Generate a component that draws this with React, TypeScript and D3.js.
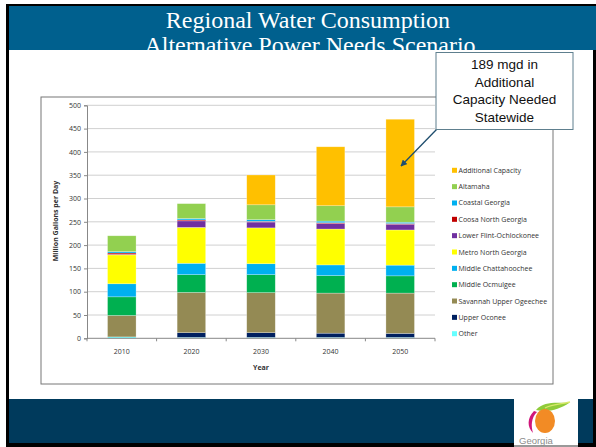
import React, { useRef, useEffect } from 'react';
import * as d3 from 'd3';

const years = ['2010', '2020', '2030', '2040', '2050'];

// bottom-to-top stacking order
const seriesNames = [
  'Other',
  'Upper Oconee',
  'Savannah Upper Ogeechee',
  'Middle Ocmulgee',
  'Middle Chattahoochee',
  'Metro North Georgia',
  'Lower Flint-Ochlockonee',
  'Coosa North Georgia',
  'Coastal Georgia',
  'Altamaha',
  'Additional Capacity',
];

const seriesColors = [
  '#66FFFF', '#002060', '#948A54', '#00B050', '#00B0F0',
  '#FFFF00', '#7030A0', '#C00000', '#00B0F0', '#92D050', '#FFC000',
];

const other = [3, 2, 2, 2, 2];
const upperOconee = [0, 10, 10, 9, 8.5];
const savannah = [46, 86.5, 86, 86, 86.5];
const ocmulgee = [40, 38, 38.5, 37.5, 37];
const chattahoochee = [28, 24.5, 23.5, 23, 23];
const metro = [62, 77, 77, 77, 75.5];
const lowerFlint = [1, 14, 12.5, 12, 12.3];
const coosa = [3, 2, 1.5, 1.5, 1.5];
const coastal = [3, 3, 3.5, 3.5, 2.8];
const altamaha = [34, 32, 32, 33, 33];
const additional = [0, 0, 64, 126.5, 188];

const seriesValues = [
  other, upperOconee, savannah, ocmulgee, chattahoochee,
  metro, lowerFlint, coosa, coastal, altamaha, additional,
];

const yTicks = [0, 50, 100, 150, 200, 250, 300, 350, 400, 450, 500];

const calloutLines = ['189 mgd in', 'Additional', 'Capacity Needed', 'Statewide'];

const W = 596;
const H = 447;

export default function App() {
  const svgRef = useRef<SVGSVGElement>(null);

  useEffect(() => {
    if (!svgRef.current) return;
    const svg = d3.select(svgRef.current);
    svg.selectAll('*').remove();

    // slide frame
    svg.append('rect').attr('x', 0).attr('y', 0).attr('width', W).attr('height', H).attr('fill', '#fff');
    svg.append('rect').attr('x', 6).attr('y', 4).attr('width', W - 6).attr('height', H - 4).attr('fill', '#000');
    svg.append('rect').attr('x', 9).attr('y', 6).attr('width', 584).attr('height', 437).attr('fill', '#fff');

    // title band
    svg.append('rect').attr('x', 9).attr('y', 6).attr('width', W - 9).attr('height', 44).attr('fill', '#00608E');
    const clip = svg.append('clipPath').attr('id', 'titleClip');
    clip.append('rect').attr('x', 9).attr('y', 6).attr('width', W - 9).attr('height', 44);
    const title = svg.append('g').attr('clip-path', 'url(#titleClip)');
    title.append('text')
      .attr('x', 308).attr('y', 27.5)
      .attr('text-anchor', 'middle')
      .attr('font-family', '"Liberation Serif", "DejaVu Serif", serif')
      .attr('font-size', 24)
      .attr('fill', '#fff')
      .text('Regional Water Consumption');
    title.append('text')
      .attr('x', 310).attr('y', 53)
      .attr('text-anchor', 'middle')
      .attr('font-family', '"Liberation Serif", "DejaVu Serif", serif')
      .attr('font-size', 24)
      .attr('fill', '#fff')
      .text('Alternative Power Needs Scenario');

    // footer
    svg.append('rect').attr('x', 9).attr('y', 399).attr('width', 584).attr('height', 44).attr('fill', '#003A5C');

    // chart box
    svg.append('rect')
      .attr('x', 41).attr('y', 97).attr('width', 512).attr('height', 287)
      .attr('fill', '#fff').attr('stroke', '#777').attr('stroke-width', 1);

    const plotLeft = 87;
    const plotRight = 435;
    const plotTop = 105.3;
    const plotBottom = 338.3;

    const x = d3.scaleBand<string>()
      .domain(years)
      .range([plotLeft, plotRight])
      .paddingInner(0.59)
      .paddingOuter(0.295);

    const y = d3.scaleLinear().domain([0, 500]).range([plotBottom, plotTop]);

    const font = '"Open Sans", "Liberation Sans", sans-serif';

    // gridlines
    svg.append('g')
      .selectAll('line')
      .data(yTicks.filter(t => t > 0))
      .enter()
      .append('line')
      .attr('x1', plotLeft).attr('x2', plotRight)
      .attr('y1', d => y(d)).attr('y2', d => y(d))
      .attr('stroke', '#c4c4c4').attr('stroke-width', 0.8);

    // stacked bars
    const rows = years.map((yr, i) => {
      const r: any = { year: yr };
      seriesNames.forEach((s, k) => { r[s] = seriesValues[k][i]; });
      return r;
    });
    const stack = d3.stack<any>().keys(seriesNames);
    const stacked = stack(rows);

    const barsG = svg.append('g');
    stacked.forEach((layer, k) => {
      barsG.append('g')
        .attr('fill', seriesColors[k])
        .selectAll('rect')
        .data(layer)
        .enter()
        .append('rect')
        .attr('x', d => x(d.data.year) as number)
        .attr('width', x.bandwidth())
        .attr('y', d => y(d[1]))
        .attr('height', d => Math.max(0, y(d[0]) - y(d[1])))
        .attr('stroke', '#ffffff')
        .attr('stroke-opacity', 0.45)
        .attr('stroke-width', 0.6);
    });

    // y axis
    const yAxis = svg.append('g')
      .attr('transform', `translate(${plotLeft},0)`)
      .call(d3.axisLeft(y).tickValues(yTicks).tickSize(3).tickPadding(3));
    yAxis.select('.domain').attr('stroke', '#888');
    yAxis.selectAll('.tick line').attr('stroke', '#888');
    yAxis.selectAll('.tick text')
      .attr('font-family', font).attr('font-size', 7).attr('fill', '#333');

    // x axis
    svg.append('line')
      .attr('x1', plotLeft).attr('x2', plotRight)
      .attr('y1', plotBottom).attr('y2', plotBottom)
      .attr('stroke', '#888').attr('stroke-width', 1);
    const boundaries = d3.range(years.length + 1).map(i => plotLeft + i * x.step());
    svg.append('g')
      .selectAll('line')
      .data(boundaries)
      .enter()
      .append('line')
      .attr('x1', d => d).attr('x2', d => d)
      .attr('y1', plotBottom).attr('y2', plotBottom + 3)
      .attr('stroke', '#888');
    svg.append('g')
      .selectAll('text')
      .data(years)
      .enter()
      .append('text')
      .attr('x', d => (x(d) as number) + x.bandwidth() / 2)
      .attr('y', 354)
      .attr('text-anchor', 'middle')
      .attr('font-family', font).attr('font-size', 7).attr('fill', '#333')
      .text(d => d);

    // axis titles
    svg.append('text')
      .attr('x', 261).attr('y', 370)
      .attr('text-anchor', 'middle')
      .attr('font-family', font).attr('font-size', 7).attr('font-weight', 'bold').attr('fill', '#333')
      .text('Year');
    svg.append('text')
      .attr('transform', `translate(58,221) rotate(-90)`)
      .attr('text-anchor', 'middle')
      .attr('font-family', font).attr('font-size', 7).attr('font-weight', 'bold').attr('fill', '#333')
      .text('Million Gallons per Day');

    // legend (reverse order)
    const legendOrder = seriesNames.map((_, k) => k).reverse();
    const legend = svg.append('g');
    legendOrder.forEach((k, i) => {
      const cy = 170.3 + i * 16.34;
      legend.append('rect')
        .attr('x', 452).attr('y', cy - 2.5).attr('width', 5).attr('height', 5)
        .attr('fill', seriesColors[k]);
      legend.append('text')
        .attr('x', 458.5).attr('y', cy + 2.5)
        .attr('font-family', font).attr('font-size', 7).attr('fill', '#333')
        .text(seriesNames[k]);
    });

    // callout arrow
    const defs = svg.append('defs');
    defs.append('marker')
      .attr('id', 'arrowHead')
      .attr('viewBox', '0 0 10 10')
      .attr('refX', 9).attr('refY', 5)
      .attr('markerWidth', 5).attr('markerHeight', 5)
      .attr('orient', 'auto')
      .append('path').attr('d', 'M0,0 L10,5 L0,10 z').attr('fill', '#1F4E6E');
    svg.append('line')
      .attr('x1', 437).attr('y1', 129)
      .attr('x2', 401).attr('y2', 166)
      .attr('stroke', '#1F4E6E').attr('stroke-width', 1.3)
      .attr('marker-end', 'url(#arrowHead)');

    // callout box
    svg.append('rect')
      .attr('x', 436).attr('y', 52.5).attr('width', 137).attr('height', 77)
      .attr('fill', '#fff').attr('stroke', '#5E7F8E').attr('stroke-width', 1);
    svg.append('g')
      .selectAll('text')
      .data(calloutLines)
      .enter()
      .append('text')
      .attr('x', 504.5)
      .attr('y', (_, i) => 69 + i * 17.6)
      .attr('text-anchor', 'middle')
      .attr('font-family', '"Liberation Sans", Arial, sans-serif')
      .attr('font-size', 13.5).attr('fill', '#111')
      .text(d => d);

    // Georgia logo
    const logo = svg.append('g');
    logo.append('rect').attr('x', 514).attr('y', 399).attr('width', 64).attr('height', 48).attr('fill', '#fff');
    logo.append('rect').attr('x', 514).attr('y', 445).attr('width', 64).attr('height', 2).attr('fill', '#999');
    logo.append('path')
      .attr('d', 'M536,410 C544,401 556,403 569,403 C560,409 548,413 536,410 Z')
      .attr('fill', '#8FCB3A');
    logo.append('path')
      .attr('d', 'M545,408 C552,404 562,404 570,402')
      .attr('fill', 'none').attr('stroke', '#D8E86A').attr('stroke-width', 1.4);
    logo.append('ellipse')
      .attr('cx', 545).attr('cy', 421).attr('rx', 10).attr('ry', 12)
      .attr('fill', '#F28B25');
    logo.append('path')
      .attr('d', 'M534,411 C527,418 527,427 533,433 C531,426 531,418 537,412 Z')
      .attr('fill', '#D0157A');
    logo.append('text')
      .attr('x', 519).attr('y', 444)
      .attr('font-family', '"Liberation Sans", sans-serif')
      .attr('font-size', 9.5).attr('fill', '#8C8C8C')
      .text('Georgia');
  }, []);

  return (
    <svg
      ref={svgRef}
      width={W}
      height={H}
      style={{ position: 'absolute', left: 0, top: 0, display: 'block' }}
    />
  );
}
